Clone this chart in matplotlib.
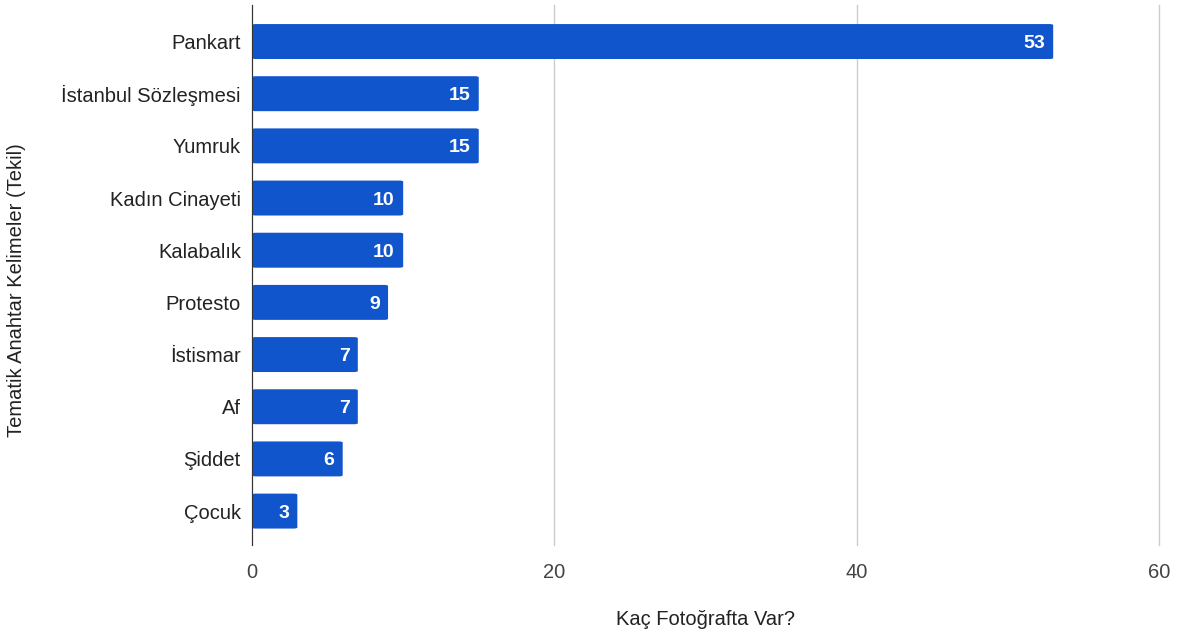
import matplotlib
matplotlib.use("Agg")
import matplotlib.pyplot as plt
from matplotlib.patches import FancyBboxPatch

kelimeler = ["Pankart", "İstanbul Sözleşmesi", "Yumruk", "Kadın Cinayeti",
             "Kalabalık", "Protesto", "İstismar", "Af", "Şiddet", "Çocuk"]
sayilar = [53, 15, 15, 10, 10, 9, 7, 7, 6, 3]
x_ticks = [0, 20, 40, 60]

plt.rcParams["font.family"] = ["Liberation Sans", "DejaVu Sans"]

renk = "#1155cc"
yazi = "#222222"

fig = plt.figure(figsize=(11.79, 6.35), dpi=100)
ax = fig.add_axes([252 / 1179, 1 - 545 / 635, 907 / 1179, 540 / 635])

pozisyon = list(range(len(kelimeler)))
bars = ax.barh(pozisyon, sayilar, height=0.67, color=renk, zorder=3)

# kose yuvarlatma
for b in bars:
    b.set_visible(False)
    p = FancyBboxPatch((b.get_x(), b.get_y()), b.get_width(), b.get_height(),
                       boxstyle="round,pad=0,rounding_size=0.25",
                       mutation_aspect=0.3 / 0.25 * 0.02 * 52 / 15,
                       color=renk, zorder=3, linewidth=0)
    ax.add_patch(p)

for y, v in zip(pozisyon, sayilar):
    ax.text(v - 0.55, y, str(v), ha="right", va="center_baseline", color="white",
            fontsize=14, fontweight="bold", zorder=4)

ax.set_xlim(0, 60)
ax.set_ylim(9.65, -0.70)
ax.set_yticks(pozisyon)
ax.set_yticklabels(kelimeler, fontsize=14.5, color=yazi)
ax.set_xticks(x_ticks)
ax.set_xticklabels([str(t) for t in x_ticks], fontsize=14.5, color="#444444")
ax.tick_params(length=0, pad=8)
ax.tick_params(axis="x", pad=13)
ax.grid(axis="x", color="#cccccc", linewidth=1, zorder=0)
for gl in ax.get_xgridlines():
    gl.set_clip_on(False)
for s in ["top", "right", "bottom"]:
    ax.spines[s].set_visible(False)
ax.spines["left"].set_color("#333333")
ax.spines["left"].set_zorder(5)

ax.set_xlabel("Kaç Fotoğrafta Var?", fontsize=14.5, color=yazi, labelpad=20)
fig.text(17 / 1179, 1 - 290 / 635, "Tematik Anahtar Kelimeler (Tekil)",
         rotation=90, ha="center", va="center", fontsize=14.5, color=yazi)

fig.savefig("out.png", dpi=100)
